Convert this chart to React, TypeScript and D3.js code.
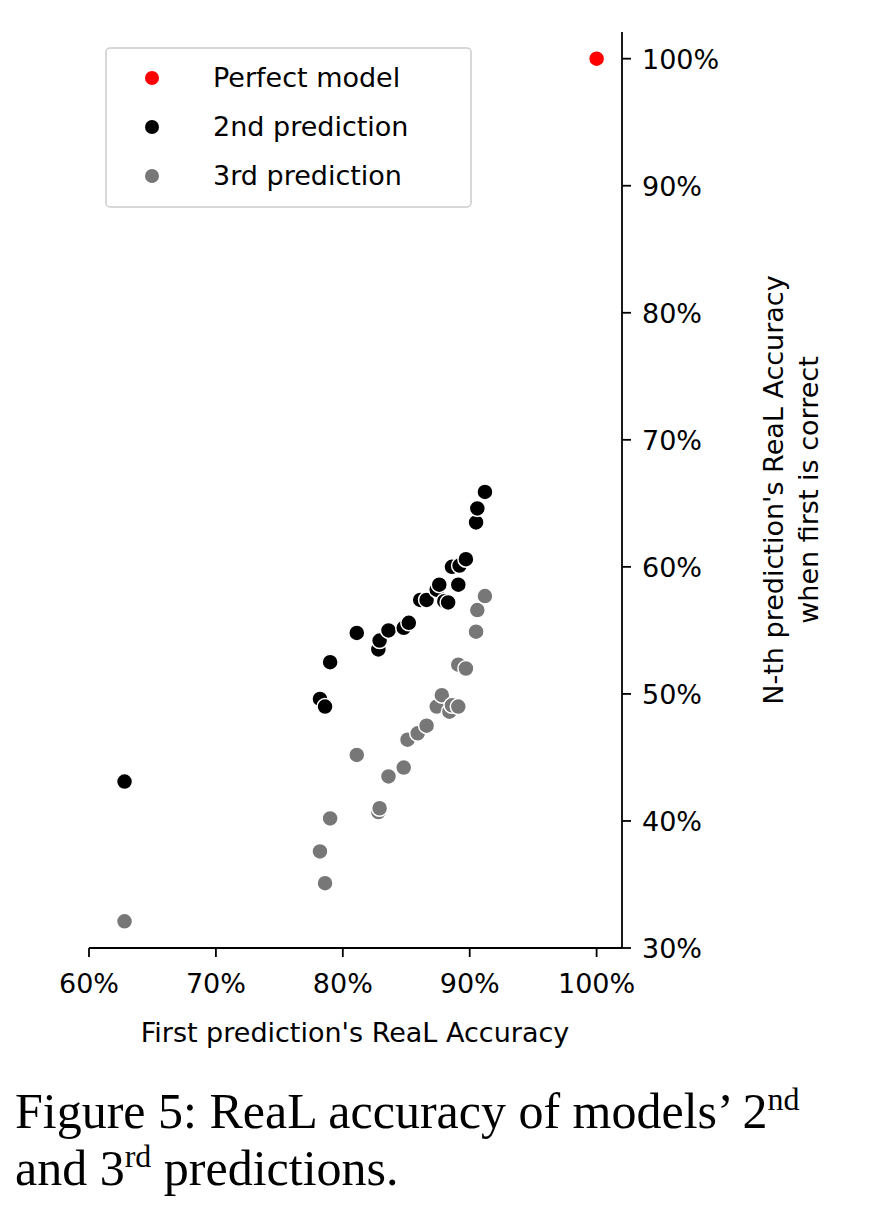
import * as d3 from 'd3'

const perfect: [number, number][] = [[100, 100]]
const second: [number, number][] = [
  [62.8, 43.1], [78.2, 49.6], [78.6, 49.0], [79.0, 52.5], [81.1, 54.8], [82.8, 53.5], [82.9, 54.2],
  [83.6, 55.0], [84.8, 55.2], [85.2, 55.6], [86.1, 57.4], [86.6, 57.4], [87.4, 58.2], [87.6, 58.6],
  [88.0, 57.3], [88.3, 57.2], [88.6, 60.0], [89.1, 58.6], [89.2, 60.1], [89.7, 60.6], [90.5, 63.5],
  [90.6, 64.6], [91.2, 65.9],
]
const third: [number, number][] = [
  [62.8, 32.1], [78.2, 37.6], [78.6, 35.1], [79.0, 40.2], [81.1, 45.2], [82.8, 40.7], [82.9, 41.0],
  [83.6, 43.5], [84.8, 44.2], [85.1, 46.4], [85.9, 46.9], [86.6, 47.5], [87.4, 49.0], [87.8, 49.9],
  [88.4, 48.6], [88.6, 49.1], [89.1, 49.0], [89.1, 52.3], [89.7, 52.0], [90.5, 54.9], [90.6, 56.6],
  [91.2, 57.7],
]
const xTicks = [60, 70, 80, 90, 100]
const yTicks = [30, 40, 50, 60, 70, 80, 90, 100]
const legend = [
  { label: 'Perfect model', color: '#ff0000' },
  { label: '2nd prediction', color: '#000000' },
  { label: '3rd prediction', color: '#777777' },
]

export default function App() {
  const x = d3.scaleLinear().domain([60, 102]).range([89, 622])
  const y = d3.scaleLinear().domain([30, 102.1]).range([948, 32])
  const font = "'DejaVu Sans', sans-serif"
  const fs = 27
  const dots = (data: [number, number][], color: string) =>
    data.map((d, i) => (
      <circle key={color + i} cx={x(d[0])} cy={y(d[1])} r={8} fill={color} stroke="#fff" strokeWidth={1.5} />
    ))
  return (
    <svg width={884} height={1226} style={{ position: 'absolute', left: 0, top: 0 }}>
      <rect width={884} height={1226} fill="#fff" />
      {dots(third, '#777777')}
      {dots(second, '#000000')}
      {dots(perfect, '#ff0000')}
      <line x1={89} x2={622} y1={948} y2={948} stroke="#000" strokeWidth={1.8} />
      <line x1={622} x2={622} y1={32} y2={948} stroke="#000" strokeWidth={1.8} />
      {xTicks.map(t => (
        <g key={t}>
          <line x1={x(t)} x2={x(t)} y1={948} y2={957} stroke="#000" strokeWidth={1.8} />
          <text x={x(t)} y={993} textAnchor="middle" fontSize={fs} fontFamily={font}>{t}%</text>
        </g>
      ))}
      {yTicks.map(t => (
        <g key={t}>
          <line x1={622} x2={631} y1={y(t)} y2={y(t)} stroke="#000" strokeWidth={1.8} />
          <text x={642} y={y(t) + 10} fontSize={fs} fontFamily={font}>{t}%</text>
        </g>
      ))}
      <text x={355} y={1042} textAnchor="middle" fontSize={fs} fontFamily={font}>First prediction's ReaL Accuracy</text>
      <text transform="translate(783,490) rotate(-90)" textAnchor="middle" fontSize={fs} fontFamily={font}>
        N-th prediction's ReaL Accuracy
      </text>
      <text transform="translate(818,490) rotate(-90)" textAnchor="middle" fontSize={fs} fontFamily={font}>
        when first is correct
      </text>
      <rect x={106} y={48} width={365} height={159} rx={4} fill="#fff" stroke="#ccc" strokeWidth={1.5} />
      {legend.map((l, i) => (
        <g key={l.label}>
          <circle cx={152} cy={78 + i * 49} r={7} fill={l.color} />
          <text x={213} y={87 + i * 49} fontSize={fs} fontFamily={font}>{l.label}</text>
        </g>
      ))}
      <text x={15} y={1128} fontSize={50} fontFamily="'Liberation Serif', serif">
        Figure 5: ReaL accuracy of models’ 2<tspan dy={-18} fontSize={32}>nd</tspan>
      </text>
      <text x={15} y={1185} fontSize={50} fontFamily="'Liberation Serif', serif">
        and 3<tspan dy={-18} fontSize={32}>rd</tspan><tspan dy={18}> predictions.</tspan>
      </text>
    </svg>
  )
}
